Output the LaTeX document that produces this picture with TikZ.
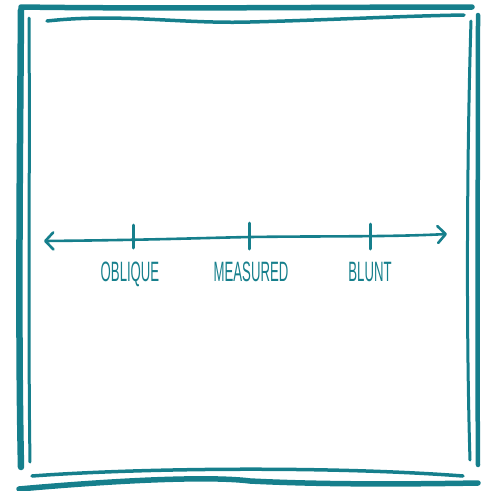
\documentclass[tikz,border=0pt]{standalone}
\usepackage{fontspec}
\newfontfamily\labfont[FakeStretch=0.47]{Liberation Sans}
\usetikzlibrary{arrows.meta}
\definecolor{teal1}{RGB}{22,127,140}
\tikzset{
  frame/.style={draw=teal1, line cap=round, line join=round},
  axis/.style={draw=teal1, line width=2.6pt, line cap=round,
    arrows={Straight Barb[length=8pt,width=17pt,line width=2.6pt,round]-Straight Barb[length=8pt,width=17pt,line width=2.6pt,round]}},
  tickmark/.style={draw=teal1, line width=3pt, line cap=round},
  lab/.style={text=teal1, font=\labfont\fontsize{28}{28}\selectfont, inner sep=0pt, anchor=base}
}
\begin{document}
\begin{tikzpicture}[x=1pt,y=-1pt]
\useasboundingbox (0,0) rectangle (481,491);
% top
\draw[frame, line width=5.5pt] (21,7) .. controls (160,9) and (330,7) .. (472,7);
\draw[frame, line width=3.5pt] (47,21) .. controls (120,13) and (180,24) .. (250,22) .. controls (330,20) and (400,16) .. (464,15);
% left
\draw[frame, line width=6.5pt] (21,10) .. controls (20,150) and (18,330) .. (21,467);
\draw[frame, line width=3pt] (29,18) .. controls (30,160) and (28,330) .. (30,462);
% right
\draw[frame, line width=3pt] (471,21) .. controls (467,150) and (466,330) .. (470,460);
\draw[frame, line width=4.5pt] (478,15) .. controls (478,160) and (477,330) .. (478,465);
% bottom
\draw[frame, line width=3.5pt] (32,476) .. controls (140,468) and (330,466) .. (463,476);
\draw[frame, line width=5.5pt] (19,489) .. controls (120,480) and (210,476) .. (250,481) .. controls (330,485) and (420,484) .. (478,483);
% axis
\coordinate (L) at (44,241);
\coordinate (R) at (447,234);
\draw[axis] (L) .. controls (150,240) and (200,238) .. (250,237) .. controls (320,236) and (390,237) .. (R);
\coordinate (t1a) at (133,225); \coordinate (t1b) at (133,248);
\coordinate (t2a) at (249,223); \coordinate (t2b) at (249,249);
\coordinate (t3a) at (370,224); \coordinate (t3b) at (370,249);
\draw[tickmark] (t1a) -- (t1b);
\draw[tickmark] (t2a) -- (t2b);
\draw[tickmark] (t3a) -- (t3b);
\node[lab] (oblique) at (130,281) {OBLIQUE};
\node[lab] (measured) at (251,281) {MEASURED};
\node[lab] (blunt) at (370,281) {BLUNT};
\end{tikzpicture}
\end{document}
